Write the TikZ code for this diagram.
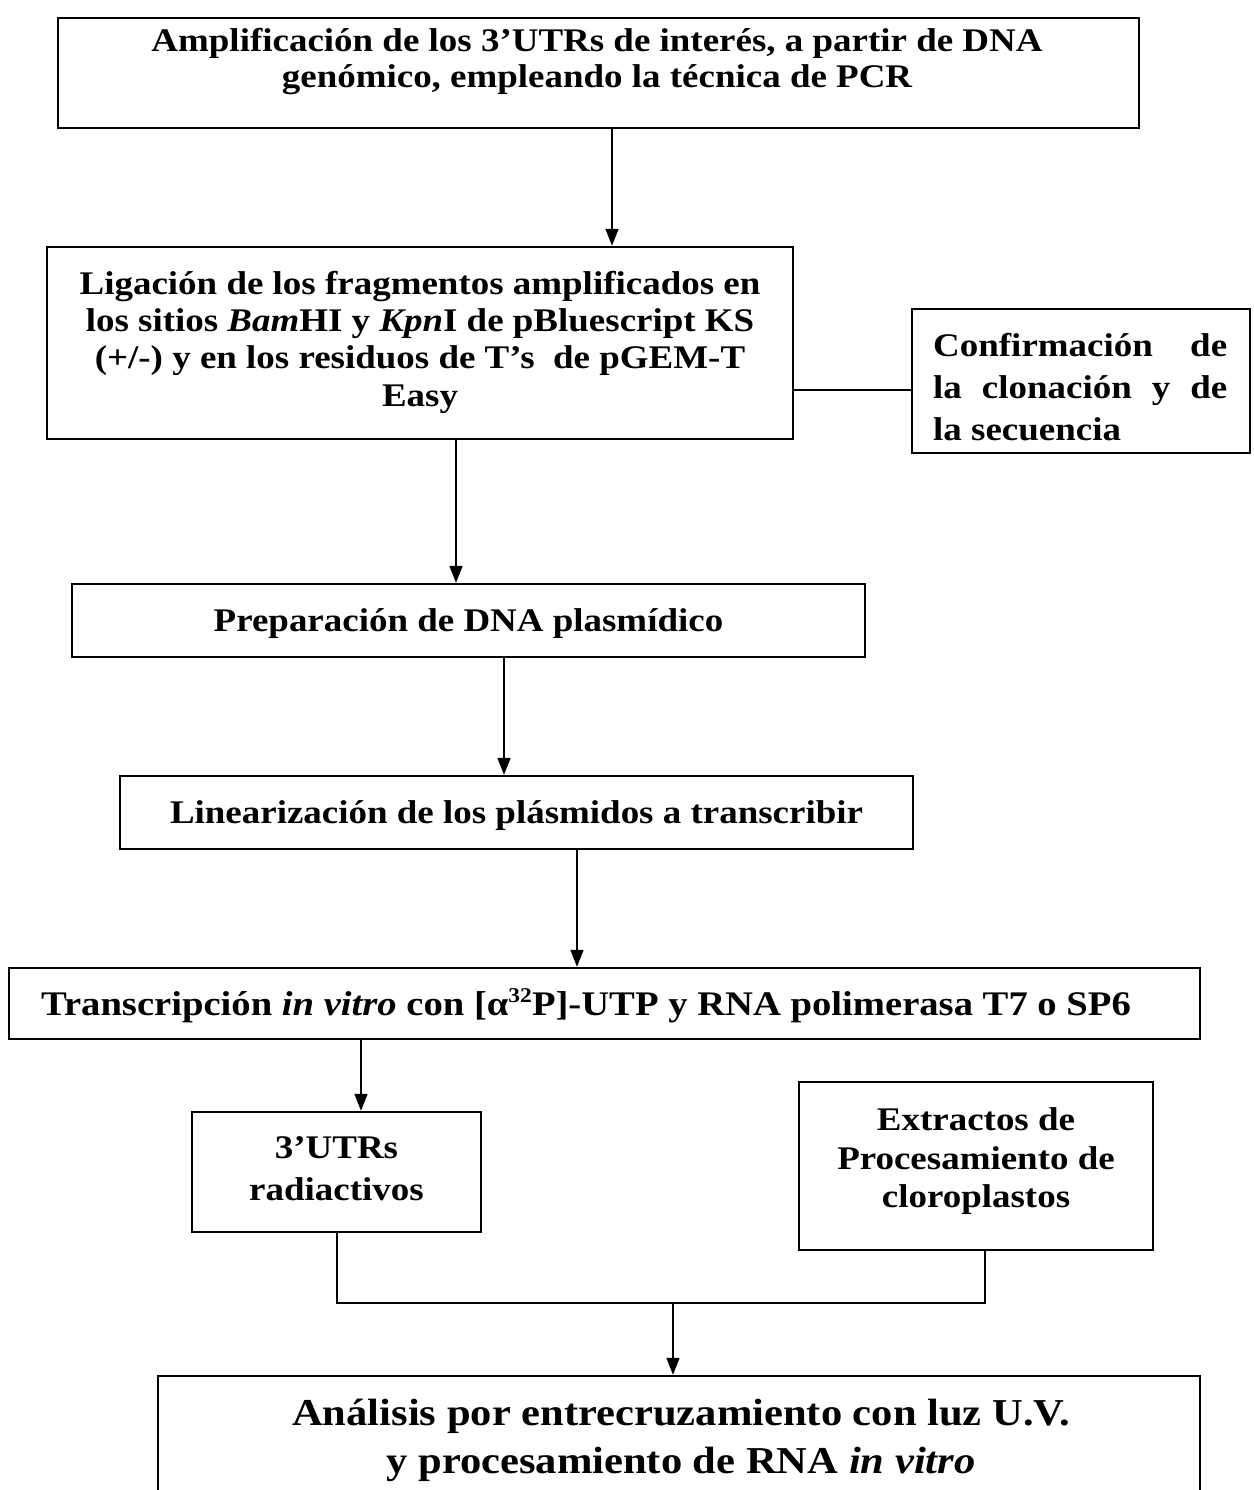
\documentclass[tikz,border=0pt]{standalone}
\usepackage{fontspec}
\setmainfont[FakeStretch=1.12]{Liberation Serif}
\usetikzlibrary{arrows.meta}
\tikzset{
  box/.style={draw, line width=2.4pt, inner sep=0pt},
  conn/.style={draw, line width=1.6pt},
  arr/.style={conn, -{Triangle[length=17pt,width=13pt]}},
  txt/.style={anchor=base, inner sep=0pt, font=\bfseries\fontsize{33}{38}\selectfont},
  txtL/.style={anchor=base, inner sep=0pt, font=\bfseries\fontsize{38}{46}\selectfont},
  txtW/.style={anchor=base west, inner sep=0pt, font=\bfseries\fontsize{33}{38}\selectfont},
}
\begin{document}
\begin{tikzpicture}[x=1pt,y=-1pt]
\useasboundingbox (0,0) rectangle (1253,1490);
\clip (0,0) rectangle (1253,1490);
% boxes
\node[box, minimum width=1081pt, minimum height=110pt] (b1) at (598.5,73) {};
\node[box, minimum width=746pt, minimum height=192pt] (b2) at (420,343) {};
\node[box, minimum width=338pt, minimum height=144pt] (b3) at (1081,381) {};
\node[box, minimum width=793pt, minimum height=73pt] (b4) at (468.5,620.5) {};
\node[box, minimum width=793pt, minimum height=73pt] (b5) at (516.5,812.5) {};
\node[box, minimum width=1191pt, minimum height=71pt] (b6) at (604.5,1003.5) {};
\node[box, minimum width=289pt, minimum height=120pt] (b7) at (336.5,1172) {};
\node[box, minimum width=354pt, minimum height=168pt] (b8) at (976,1166) {};
\node[box, minimum width=1042pt, minimum height=170pt] (b9) at (679,1461) {};
% texts
\node[txt] (t1a) at (597,52) {Amplificación de los 3’UTRs de interés, a partir de DNA};
\node[txt] (t1b) at (597,88) {genómico, empleando la técnica de PCR};
\node[txt] (t2a) at (420,294) {Ligación de los fragmentos amplificados en};
\node[txt] (t2b) at (420,331) {los sitios \textit{Bam}HI y \textit{Kpn}I de pBluescript KS};
\node[txt] (t2c) at (420,368) {(+/-) y en los residuos de T’s\ \ de pGEM-T};
\node[txt] (t2d) at (420,406) {Easy};
\node[txtW] (t3a) at (933,356) {\makebox[294pt][s]{Confirmación de}};
\node[txtW] (t3b) at (933,398) {\makebox[294pt][s]{la clonación y de}};
\node[txtW] (t3c) at (933,440) {la secuencia};
\node[txt] (t4) at (468.5,631) {Preparación de DNA plasmídico};
\node[txt] (t5) at (516.5,823) {Linearización de los plásmidos a transcribir};
\node[txt, font=\bfseries\fontsize{34.5}{38}\selectfont] (t6) at (586,1015) {Transcripción \textit{in vitro} con [α\raisebox{13pt}{\fontsize{21}{21}\selectfont 32}P]-UTP y RNA polimerasa T7 o SP6};
\node[txt] (t7a) at (336.5,1158) {3’UTRs};
\node[txt] (t7b) at (336.5,1200) {radiactivos};
\node[txt] (t8a) at (976,1130) {Extractos de};
\node[txt] (t8b) at (976,1169) {Procesamiento de};
\node[txt] (t8c) at (976,1207) {cloroplastos};
\node[txtL] (t9a) at (681,1425) {Análisis por entrecruzamiento con luz U.V.};
\node[txtL] (t9b) at (681,1473) {y procesamiento de RNA \textit{in vitro}};
% connectors
\draw[arr] (b1.south -| 612,0) -- (b2.north -| 612,0);
\draw[conn] (b2.east |- 0,390) -- (b3.west |- 0,390);
\draw[arr] (b2.south -| 456,0) -- (b4.north -| 456,0);
\draw[arr] (b4.south -| 504,0) -- (b5.north -| 504,0);
\draw[arr] (b5.south -| 577,0) -- (b6.north -| 577,0);
\draw[arr] (b6.south -| 361,0) -- (b7.north -| 361,0);
\coordinate (jl) at (336.5,1303);
\coordinate (jr) at (985,1303);
\coordinate (jm) at (673,1303);
\draw[conn, line width=2pt] (b7.south) -- (jl) -- (jr) -- (b8.south -| jr);
\draw[arr] (jm) -- (b9.north -| jm);
\end{tikzpicture}
\end{document}
